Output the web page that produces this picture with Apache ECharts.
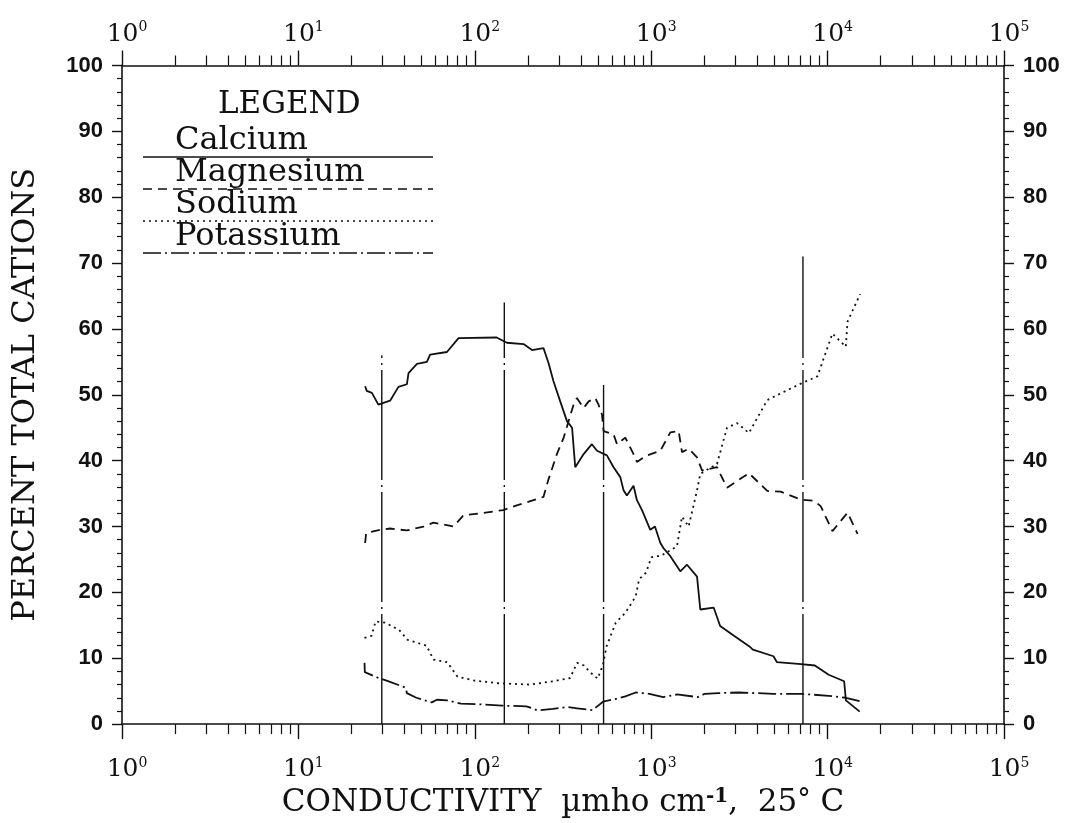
<!DOCTYPE html>
<html><head><meta charset="utf-8">
<script src="https://cdn.jsdelivr.net/npm/echarts@6/dist/echarts.min.js"></script>
<style>html,body{margin:0;padding:0;background:#fff}#c{width:1073px;height:823px}</style>
</head><body><div id="c"></div>
<script>
// ---- data (conductivity in µmho/cm, percent of total cations) ----
const caX = [23.9,24.4,26.1,28.4,33.1,36.9,41.2,42.1,47,53.5,55.8,69.5,80.9,133,152,189,211,245,262,279,305,333,356,371,414,461,493,561,612,668,697,728,794,830,887,988,1050,1127,1175,1284,1462,1596,1819,1898,2259,2460,2946,3605,3770,4935,5163,7070,8470,10140,12410,12700,15200];
const caY = [51.3,50.6,50.3,48.5,49.1,51.2,51.6,53.3,54.7,55.0,56.1,56.5,58.6,58.7,57.9,57.7,56.8,57.1,54.8,52.1,49.0,46.0,45.0,39.0,41.0,42.5,41.5,40.8,39.0,37.5,35.5,34.7,36.2,34.0,32.5,29.5,30.0,27.5,26.7,25.5,23.2,24.2,22.4,17.4,17.7,14.9,13.4,11.8,11.3,10.3,9.4,9.1,8.9,7.5,6.5,3.6,1.9];

const mgX = [23.9,24.2,29.1,33.1,41.2,51.2,58.3,75.7,86.3,107,145,173,215,245,262,292,319,340,363,379,414,442,482,503,526,537,612,640,713,794,830,946,1127,1284,1431,1495,1631,1819,1942,2361,2690,3580,4550,5410,7050,8380,9140,10650,12970,14790];
const mgY = [27.5,29.0,29.5,29.7,29.4,30.0,30.6,30.0,31.7,32.0,32.5,33.2,34.0,34.5,37.2,41.0,43.5,46.0,48.5,49.5,48.0,49.0,49.5,48.5,47.0,44.5,44.0,42.5,43.5,41.0,39.8,40.8,41.5,44.3,44.5,41.3,41.8,40.5,38.5,39.0,35.9,38.1,35.4,35.3,34.1,33.9,33.1,29.3,32.1,28.9];

const naX = [23.7,26,27.4,31,37.2,41.6,53.3,58.3,69.8,79.8,100,137,205,277,347,380,416,445,497,533,558,630,714,817,854,935,1000,1070,1127,1400,1495,1630,1820,1898,2360,2690,3070,3580,4550,5410,7050,8750,10650,12680,12970,15300];
const naY = [13.1,13.4,15.6,15.4,14.3,12.8,11.9,9.8,9.4,7.2,6.6,6.2,6.0,6.5,7.0,9.3,8.9,8.0,6.9,9.0,11.8,15.4,16.9,19.4,22.0,23.0,25.3,25.5,25.5,27.0,31.5,30.0,35.5,38.0,39.5,45.0,45.7,44.2,49.2,50.2,51.7,52.8,59.3,57.3,61.1,65.3];

const kX = [23.7,23.8,28.4,32.5,40.7,41.2,46.6,57,61,69.8,83.5,109,143,196,212,225,232,277,332,380,465,533,624,714,817,977,1170,1400,1837,2010,2404,3150,4935,7070,10140,12700,15200];
const kY = [9.3,7.9,7.0,6.5,5.5,4.7,4.0,3.3,3.7,3.6,3.1,3.0,2.8,2.7,2.4,2.1,2.1,2.3,2.6,2.4,2.1,3.4,3.8,4.2,4.8,4.6,4.1,4.5,4.1,4.6,4.7,4.8,4.6,4.6,4.3,4.0,3.5];

// vertical reference lines
const refX = [29.7, 147, 537, 7250];
const refTop = [56, 64, 51.5, 71];

const seriesNames = ['Calcium','Magnesium','Sodium','Potassium'];
const xTickExps = [0,1,2,3,4,5];
const yTicks = [0,10,20,30,40,50,60,70,80,90,100];

// ---- styling ----
const INK = '#111';
const SERIF = '"DejaVu Serif", "Liberation Serif", serif';
const SANS = '"Liberation Sans", Arial, sans-serif';
const dashes = { Calcium: 'solid', Magnesium: [9, 6], Sodium: [2, 4], Potassium: [18, 4, 2, 4] };

const zip = (xs, ys) => xs.map((x, i) => [x, ys[i]]);
const lineData = { Calcium: zip(caX, caY), Magnesium: zip(mgX, mgY), Sodium: zip(naX, naY), Potassium: zip(kX, kY) };

const chart = echarts.init(document.getElementById('c'), null, { renderer: 'canvas' });

const xLabel = (margin) => ({
  margin: margin,
  formatter: v => '{b|10}{s|' + xTickExps[Math.round(Math.log10(v))] + '}',
  rich: {
    b: { fontFamily: SERIF, fontSize: 25, lineHeight: 27, color: INK, padding: [0, 0, 0, 10] },
    s: { fontFamily: SERIF, fontSize: 14, lineHeight: 14, color: INK, verticalAlign: 'top' }
  }
});

const axisLine = { show: true, onZero: false, lineStyle: { color: INK, width: 1.6 } };

const xBase = (pos, margin) => ({
  type: 'log', logBase: 10, min: 1, max: 100000, position: pos,
  axisLine: axisLine,
  axisTick: { show: true, inside: false, length: 15, lineStyle: { color: INK, width: 1.4 } },
  minorTick: { show: true, splitNumber: 9, length: 10, lineStyle: { color: INK, width: 1.2 } },
  axisLabel: xLabel(margin),
  splitLine: { show: false }, minorSplitLine: { show: false }
});

const yBase = (pos) => ({
  type: 'value', min: 0, max: 100, interval: 10, position: pos,
  axisLine: axisLine,
  axisTick: { show: true, inside: false, length: 10, lineStyle: { color: INK, width: 1.4 } },
  minorTick: { show: true, splitNumber: 5, length: 5, lineStyle: { color: INK, width: 1.2 } },
  axisLabel: { margin: 19, fontFamily: SANS, fontWeight: 'bold', fontSize: 22, color: INK,
               formatter: v => String(yTicks[Math.round(v / 10)]) },
  splitLine: { show: false }
});

const series = seriesNames.map(n => ({
  name: n, type: 'line', data: lineData[n], showSymbol: false, symbol: 'none',
  lineStyle: { color: INK, width: 1.8, type: dashes[n] }, z: 3, silent: true
}));
refX.forEach((x, i) => {
  series.push({
    type: 'line', data: [[x, 0], [x, refTop[i]]], showSymbol: false, symbol: 'none',
    lineStyle: { color: INK, width: 1.4, type: [110, 5, 2, 5] }, z: 2, silent: true
  });
});

// legend drawn as text over line samples
const legendEls = [{
  type: 'text', left: 218, top: 89,
  style: { text: 'LEGEND', font: '31px ' + SERIF, fill: INK }
}];
seriesNames.forEach((n, i) => {
  const y = 157 + i * 32;
  legendEls.push({ type: 'text', left: 175, top: y - 32,
    style: { text: n, font: '32px ' + SERIF, fill: INK } });
  legendEls.push({ type: 'line', shape: { x1: 143, y1: y, x2: 433, y2: y },
    style: { stroke: INK, lineWidth: 1.5, lineDash: dashes[n] === 'solid' ? null : dashes[n] } });
});

chart.setOption({
  animation: false,
  backgroundColor: '#fff',
  grid: { left: 122, right: 69, top: 65.5, bottom: 93.5, containLabel: false },
  xAxis: [
    Object.assign(xBase('bottom', 32), {
      name: 'CONDUCTIVITY  {u|µmho cm}{sup|-1},  25{deg|°}{u| C}',
      nameLocation: 'middle', nameGap: 57,
      nameTextStyle: {
        fontFamily: SERIF, fontSize: 31, color: INK,
        rich: {
          u: { fontFamily: SERIF, fontSize: 31, color: INK },
          sup: { fontFamily: SERIF, fontSize: 20, fontWeight: 'bold', color: INK, verticalAlign: 'top', lineHeight: 18 },
          deg: { fontFamily: SERIF, fontSize: 27, color: INK, verticalAlign: 'top', lineHeight: 22 }
        }
      }
    }),
    xBase('top', 18)
  ],
  yAxis: [
    Object.assign(yBase('left'), {
      name: 'PERCENT TOTAL CATIONS', nameLocation: 'middle', nameRotate: 90, nameGap: 80,
      nameTextStyle: { fontFamily: SERIF, fontSize: 32, color: INK }
    }),
    yBase('right')
  ],
  series: series,
  graphic: legendEls
});
</script>
</body></html>
